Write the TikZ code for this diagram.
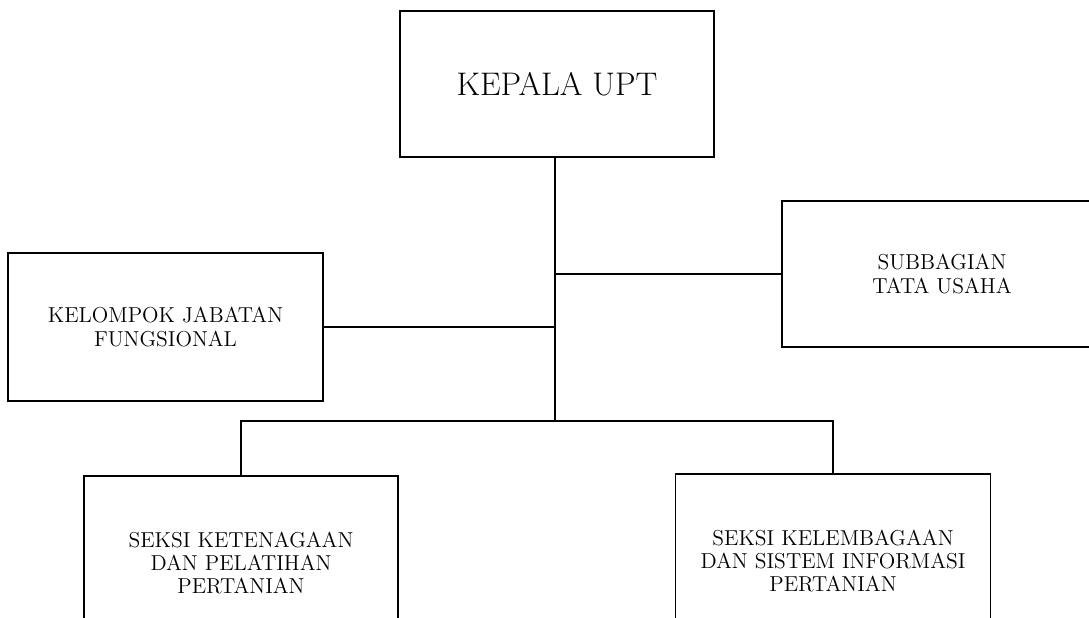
\documentclass[tikz,border=0pt]{standalone}
\begin{document}
\begin{tikzpicture}[x=0.02cm,y=-0.02cm,line width=1pt,
  unit/.style={draw,align=center,font=\fontsize{12.3}{13.2}\selectfont,inner sep=0pt},
  head/.style={draw,font=\fontsize{18.6}{21}\selectfont,inner sep=0pt,minimum width=6.28cm,minimum height=2.92cm}]
\clip (0,0) rectangle (1089,618);
\node[head] (kepala) at (557,84) {KEPALA UPT};
\node[unit,minimum width=6.4cm,minimum height=2.92cm] (subbag) at (942,274) {SUBBAGIAN\\TATA USAHA};
\node[unit,minimum width=6.3cm,minimum height=2.96cm] (kjf) at (165.5,327) {KELOMPOK JABATAN\\FUNGSIONAL};
\node[unit,minimum width=6.28cm,minimum height=3.48cm] (seksia) at (241,563) {SEKSI KETENAGAAN\\DAN PELATIHAN\\PERTANIAN};
\node[unit,minimum width=6.3cm,minimum height=3.48cm] (seksib) at (833,561) {SEKSI KELEMBAGAAN\\DAN SISTEM INFORMASI\\PERTANIAN};
\coordinate (bus) at (555,421);
\draw (kepala.south -| bus) -- (bus);
\draw (subbag.west) -- (subbag.west -| bus);
\draw (kjf.east) -- (kjf.east -| bus);
\draw (seksia.north) |- (bus) -| (seksib.north);
\end{tikzpicture}
\end{document}
